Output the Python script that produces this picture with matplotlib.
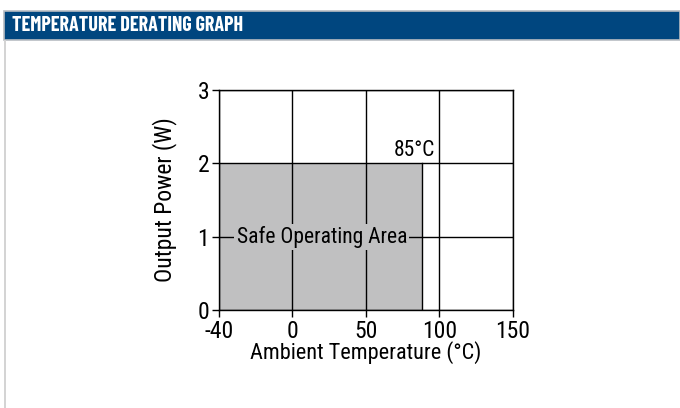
import matplotlib.pyplot as plt
from matplotlib.patches import Rectangle

# axis data (the -40 label sits one full grid step left of 0 in the source)
x_ticks = [-50, 0, 50, 100, 150]
x_labels = ['-40', '0', '50', '100', '150']
y_ticks = [0, 1, 2, 3]
# safe operating area: full power up to the derating edge
derate_x = [-50, 88.5]
derate_power = 2
derate_label = '85°C'

plt.rcParams['font.family'] = ['Roboto Condensed', 'DejaVu Sans']

fig = plt.figure(figsize=(6.8, 4.08), dpi=100)

# header bar and panel frame
fig.patches.append(Rectangle((0.006, 0.902), 0.994, 0.071, transform=fig.transFigure,
                             facecolor='#00467f', edgecolor='#b8bcc2', linewidth=1.2))
fig.patches.append(Rectangle((0.006, -0.01), 0.003, 0.912, transform=fig.transFigure,
                             facecolor='#d4d4d4', edgecolor='none'))
fig.text(0.018, 0.937, 'TEMPERATURE DERATING GRAPH', color='white', fontsize=14.5,
         fontweight='bold', va='center', ha='left',
         family=['Barlow Condensed', 'Roboto Condensed'])

ax = fig.add_axes([0.322, 0.240, 0.432, 0.539])
ax.set_xlim(x_ticks[0], x_ticks[-1])
ax.set_ylim(y_ticks[0], y_ticks[-1])

ax.fill_between(derate_x, 0, derate_power, color='#c0c0c1', zorder=1, linewidth=0)
ax.plot([derate_x[1], derate_x[1]], [0, derate_power], color='black', lw=1, zorder=3)

ax.set_xticks(x_ticks)
ax.set_xticklabels(x_labels)
ax.set_yticks(y_ticks)
ax.grid(True, color='black', lw=1)
ax.set_axisbelow(False)
for s in ax.spines.values():
    s.set_linewidth(1)
ax.tick_params(direction='out', length=5, width=1, labelsize=17)
ax.tick_params(axis='x', pad=2)
ax.tick_params(axis='y', pad=2)

ax.text(20, 1, 'Safe Operating Area', fontsize=15.5, ha='center', va='center', zorder=4,
        bbox=dict(facecolor='#c0c0c1', edgecolor='none', pad=1.5))
ax.text(97.5, derate_power + 0.04, derate_label, fontsize=15.5, ha='right', va='bottom', zorder=4)

ax.set_xlabel('Ambient Temperature (°C)', fontsize=16, labelpad=-1)
ax.set_ylabel('Output Power (W)', fontsize=17, labelpad=15)

fig.savefig('out.png', dpi=100)
